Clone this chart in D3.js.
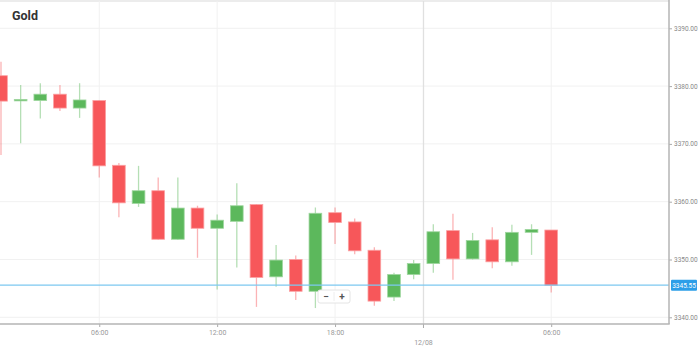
<!DOCTYPE html>
<html>
<head>
<meta charset="utf-8">
<script src="https://cdn.jsdelivr.net/npm/d3@7"></script>
<style>
  body { margin: 0; background: #fff; }
  svg { display: block; font-family: Roboto, "Noto Sans", sans-serif; }
</style>
</head>
<body>
<svg id="chart" width="699" height="347"></svg>
<script>
// hourly candles, 11/08 01:00 .. 12/08 06:00 (no 23:00 bar)
var times = ["01:00","02:00","03:00","04:00","05:00","06:00","07:00","08:00","09:00","10:00",
  "11:00","12:00","13:00","14:00","15:00","16:00","17:00","18:00","19:00","20:00","21:00","22:00",
  "00:00","01:00","02:00","03:00","04:00","05:00","06:00"];
var open  = [3381.8, 3377.5, 3377.5, 3378.6, 3376.2, 3377.5, 3366.3, 3359.7, 3361.9, 3353.5,
  3358.9, 3355.4, 3356.6, 3359.5, 3347.0, 3350.0, 3344.5, 3358.1, 3356.5, 3351.6, 3343.5, 3347.4,
  3349.3, 3355.0, 3350.1, 3353.4, 3349.6, 3354.7, 3355.1];
var high  = [3384.2, 3380.2, 3380.5, 3380.2, 3380.5, 3377.6, 3366.7, 3366.2, 3364.2, 3364.2,
  3359.3, 3357.8, 3363.2, 3359.6, 3352.5, 3350.7, 3359.0, 3359.0, 3357.1, 3352.1, 3347.7, 3349.9,
  3356.1, 3357.9, 3354.6, 3355.6, 3356.0, 3356.1, 3355.1];
var low   = [3368.1, 3370.1, 3374.4, 3375.7, 3374.5, 3364.2, 3357.3, 3359.1, 3353.4, 3353.4,
  3350.3, 3344.8, 3348.6, 3341.8, 3345.3, 3343.0, 3341.6, 3352.7, 3350.9, 3342.0, 3342.8, 3346.6,
  3347.7, 3346.5, 3350.0, 3348.5, 3348.9, 3350.8, 3344.3];
var close = [3377.4, 3377.7, 3378.6, 3376.2, 3377.6, 3366.2, 3359.8, 3361.9, 3353.5, 3358.9,
  3355.4, 3356.8, 3359.3, 3346.9, 3349.9, 3344.5, 3358.0, 3356.4, 3351.5, 3342.8, 3347.4, 3349.3,
  3354.8, 3350.1, 3353.3, 3349.6, 3354.7, 3355.2, 3345.55];

var priceTicks = [3340, 3350, 3360, 3370, 3380, 3390];
var timeTicks = [5, 11, 17, 28];      // indexes of labelled bars
var dateLabel = "12/08", dateAt = 21.5;
var lastPrice = 3345.55;
var title = "Gold";

var red = "#f7575a", green = "#5cb85c";
var W = 699, H = 347, plotR = 669, plotB = 324;

var svg = d3.select("#chart");

var x = d3.scaleLinear().domain([0, 1]).range([1, 20.65]);
var y = d3.scaleLinear().domain([3340, 3390]).range([317.3, 28.3]);

// top border
svg.append("line").attr("x1", 0).attr("x2", plotR).attr("y1", 1).attr("y2", 1)
  .attr("stroke", "#e6e6e6").attr("stroke-width", 1.5);

// grid
svg.append("g").selectAll("line").data(priceTicks).enter().append("line")
  .attr("x1", 0).attr("x2", plotR)
  .attr("y1", function(d) { return y(d); }).attr("y2", function(d) { return y(d); })
  .attr("stroke", "#f1f1f1").attr("stroke-width", 1);
svg.append("g").selectAll("line").data(timeTicks).enter().append("line")
  .attr("x1", function(d) { return x(d); }).attr("x2", function(d) { return x(d); })
  .attr("y1", 1).attr("y2", plotB)
  .attr("stroke", "#f1f1f1").attr("stroke-width", 1);
svg.append("line").attr("x1", x(dateAt)).attr("x2", x(dateAt)).attr("y1", 1).attr("y2", plotB)
  .attr("stroke", "#e0e0e0").attr("stroke-width", 1.3);

// title
svg.append("text").attr("x", 12).attr("y", 20).text(title)
  .attr("font-size", "12.5px").attr("font-weight", "bold").attr("fill", "#333");

// candles
var idx = d3.range(times.length);
var bw = 12.7;
var candles = svg.append("g").selectAll("g").data(idx).enter().append("g");
candles.append("line")
  .attr("x1", function(i) { return x(i); }).attr("x2", function(i) { return x(i); })
  .attr("y1", function(i) { return y(high[i]); }).attr("y2", function(i) { return y(low[i]); })
  .attr("stroke", function(i) { return close[i] >= open[i] ? green : red; })
  .attr("stroke-opacity", 0.45).attr("stroke-width", 1.3);
candles.append("rect")
  .attr("x", function(i) { return x(i) - bw / 2; })
  .attr("width", bw)
  .attr("y", function(i) { return y(Math.max(open[i], close[i])); })
  .attr("height", function(i) { return Math.max(1.5, Math.abs(y(open[i]) - y(close[i]))); })
  .attr("fill", function(i) { return close[i] >= open[i] ? green : red; })
  .attr("stroke", function(i) { return close[i] >= open[i] ? "#9fd69f" : "#fba0a2"; })
  .attr("stroke-width", 0.8);

// last price line
svg.append("line").attr("x1", 0).attr("x2", plotR)
  .attr("y1", y(lastPrice)).attr("y2", y(lastPrice))
  .attr("stroke", "#7cc8f0").attr("stroke-width", 1.2);

// axes
var yAxis = d3.axisRight(y).tickValues(priceTicks).tickSize(3).tickPadding(2)
  .tickFormat(d3.format(".2f"));
var gy = svg.append("g").attr("transform", "translate(" + plotR + ",0)").call(yAxis);
gy.select(".domain").remove();
gy.selectAll("line").attr("stroke", "#aaa");
gy.selectAll("text").attr("fill", "#888").attr("font-size", "6.5px").attr("font-family", "Roboto, sans-serif");

var xAxis = d3.axisBottom(x).tickValues(timeTicks).tickSize(3).tickPadding(3)
  .tickFormat(function(d) { return times[d]; });
var gx = svg.append("g").attr("transform", "translate(0," + plotB + ")").call(xAxis);
gx.select(".domain").remove();
gx.selectAll("line").attr("stroke", "#aaa");
gx.selectAll("text").attr("fill", "#999").attr("font-size", "7px").attr("font-family", "Roboto, sans-serif");

svg.append("line").attr("x1", x(dateAt)).attr("x2", x(dateAt)).attr("y1", plotB).attr("y2", plotB + 4)
  .attr("stroke", "#aaa");
svg.append("text").attr("x", x(dateAt)).attr("y", 345).attr("text-anchor", "middle")
  .text(dateLabel).attr("fill", "#999").attr("font-size", "7px");

svg.append("line").attr("x1", 0).attr("x2", plotR + 0.7).attr("y1", plotB).attr("y2", plotB)
  .attr("stroke", "#b5b5b5").attr("stroke-width", 1.5);
svg.append("line").attr("x1", plotR).attr("x2", plotR).attr("y1", 0).attr("y2", plotB)
  .attr("stroke", "#b5b5b5").attr("stroke-width", 1.5);

// last price tag
svg.append("rect").attr("x", 671).attr("y", y(lastPrice) - 5.5).attr("width", 26).attr("height", 11)
  .attr("fill", "#2d9ee8").attr("rx", 1);
svg.append("text").attr("x", 684).attr("y", y(lastPrice) + 2.3).attr("text-anchor", "middle")
  .text(d3.format(".2f")(lastPrice)).attr("fill", "#fff").attr("font-size", "6.5px");

// zoom control
var zc = svg.append("g").attr("transform", "translate(318,290)");
zc.append("rect").attr("width", 32).attr("height", 13).attr("rx", 2)
  .attr("fill", "#fff").attr("stroke", "#e4e4e4");
zc.append("line").attr("x1", 16).attr("x2", 16).attr("y1", 2).attr("y2", 11).attr("stroke", "#eee");
zc.append("text").attr("x", 8).attr("y", 10).attr("text-anchor", "middle").text("\u2212")
  .attr("font-size", "10px").attr("font-weight", "bold").attr("fill", "#555");
zc.append("text").attr("x", 24).attr("y", 10).attr("text-anchor", "middle").text("+")
  .attr("font-size", "10px").attr("font-weight", "bold").attr("fill", "#555");
</script>
</body>
</html>
